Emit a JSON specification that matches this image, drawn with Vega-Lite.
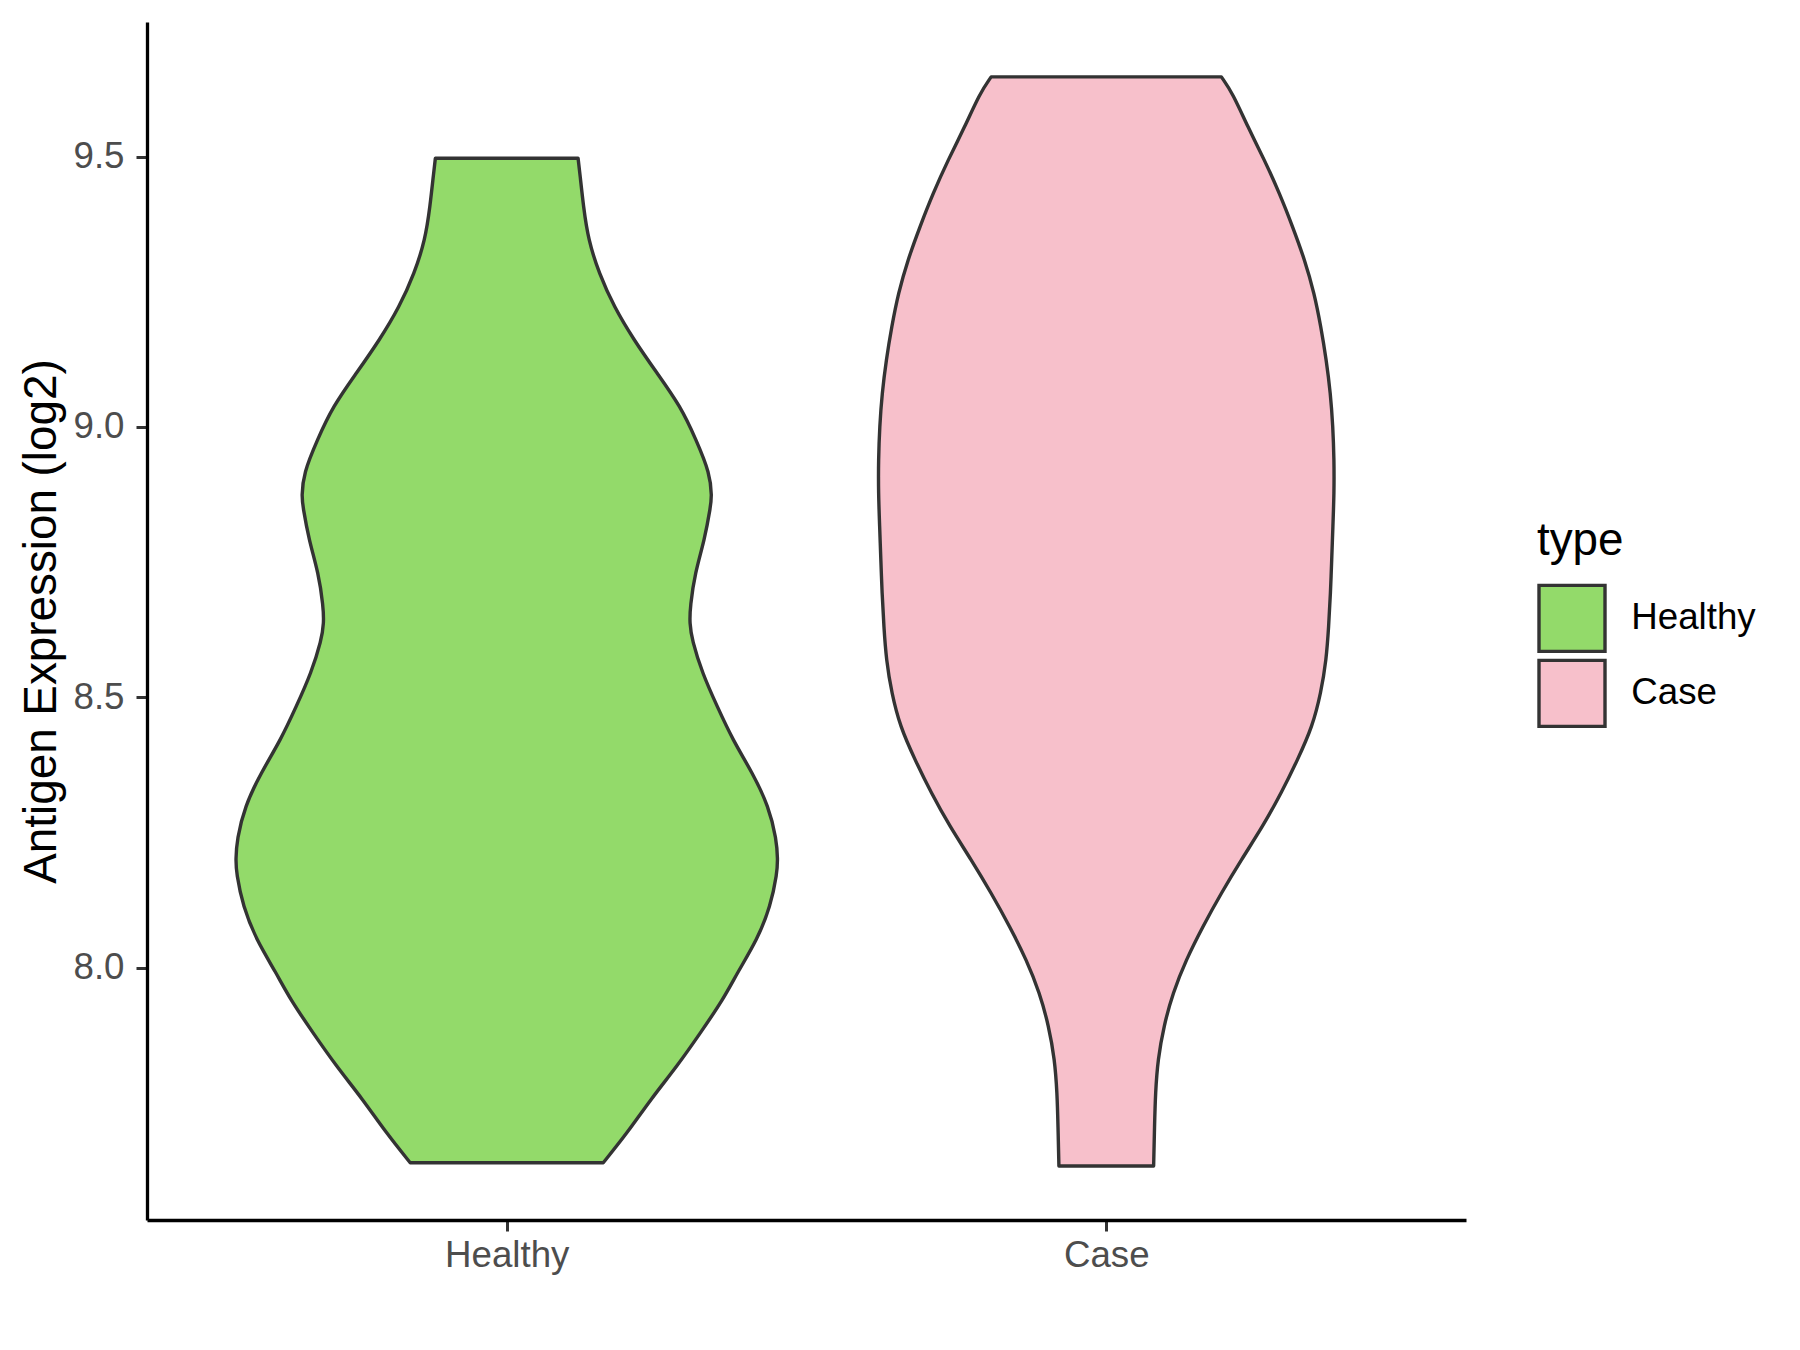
{
  "$schema": "https://vega.github.io/schema/vega-lite/v6.json",
  "autosize": {"type": "none"},
  "width": 1319,
  "height": 1198,
  "padding": {"left": 147, "top": 22, "right": 334, "bottom": 130},
  "background": "white",
  "config": {"view": {"stroke": null}, "font": "Liberation Sans"},
  "data": {"values": [
    {"type": "Healthy", "value": 7.639, "half_width": 0.161},
    {"type": "Healthy", "value": 7.694, "half_width": 0.201},
    {"type": "Healthy", "value": 7.756, "half_width": 0.240},
    {"type": "Healthy", "value": 7.818, "half_width": 0.2845},
    {"type": "Healthy", "value": 7.879, "half_width": 0.323},
    {"type": "Healthy", "value": 7.941, "half_width": 0.361},
    {"type": "Healthy", "value": 7.990, "half_width": 0.3845},
    {"type": "Healthy", "value": 8.052, "half_width": 0.418},
    {"type": "Healthy", "value": 8.113, "half_width": 0.440},
    {"type": "Healthy", "value": 8.175, "half_width": 0.451},
    {"type": "Healthy", "value": 8.200, "half_width": 0.452},
    {"type": "Healthy", "value": 8.237, "half_width": 0.450},
    {"type": "Healthy", "value": 8.298, "half_width": 0.437},
    {"type": "Healthy", "value": 8.360, "half_width": 0.410},
    {"type": "Healthy", "value": 8.421, "half_width": 0.377},
    {"type": "Healthy", "value": 8.483, "half_width": 0.351},
    {"type": "Healthy", "value": 8.545, "half_width": 0.326},
    {"type": "Healthy", "value": 8.606, "half_width": 0.309},
    {"type": "Healthy", "value": 8.637, "half_width": 0.305},
    {"type": "Healthy", "value": 8.668, "half_width": 0.306},
    {"type": "Healthy", "value": 8.730, "half_width": 0.314},
    {"type": "Healthy", "value": 8.791, "half_width": 0.330},
    {"type": "Healthy", "value": 8.853, "half_width": 0.340},
    {"type": "Healthy", "value": 8.871, "half_width": 0.342},
    {"type": "Healthy", "value": 8.914, "half_width": 0.339},
    {"type": "Healthy", "value": 8.976, "half_width": 0.316},
    {"type": "Healthy", "value": 9.038, "half_width": 0.290},
    {"type": "Healthy", "value": 9.099, "half_width": 0.251},
    {"type": "Healthy", "value": 9.161, "half_width": 0.212},
    {"type": "Healthy", "value": 9.222, "half_width": 0.179},
    {"type": "Healthy", "value": 9.284, "half_width": 0.154},
    {"type": "Healthy", "value": 9.346, "half_width": 0.136},
    {"type": "Healthy", "value": 9.407, "half_width": 0.128},
    {"type": "Healthy", "value": 9.469, "half_width": 0.122},
    {"type": "Healthy", "value": 9.497, "half_width": 0.119},
    {"type": "Case", "value": 7.633, "half_width": 0.079},
    {"type": "Case", "value": 7.707, "half_width": 0.0805},
    {"type": "Case", "value": 7.768, "half_width": 0.082},
    {"type": "Case", "value": 7.830, "half_width": 0.086},
    {"type": "Case", "value": 7.892, "half_width": 0.096},
    {"type": "Case", "value": 7.953, "half_width": 0.111},
    {"type": "Case", "value": 8.014, "half_width": 0.133},
    {"type": "Case", "value": 8.076, "half_width": 0.161},
    {"type": "Case", "value": 8.138, "half_width": 0.192},
    {"type": "Case", "value": 8.199, "half_width": 0.225},
    {"type": "Case", "value": 8.261, "half_width": 0.261},
    {"type": "Case", "value": 8.323, "half_width": 0.292},
    {"type": "Case", "value": 8.384, "half_width": 0.319},
    {"type": "Case", "value": 8.446, "half_width": 0.344},
    {"type": "Case", "value": 8.508, "half_width": 0.358},
    {"type": "Case", "value": 8.569, "half_width": 0.367},
    {"type": "Case", "value": 8.631, "half_width": 0.371},
    {"type": "Case", "value": 8.693, "half_width": 0.374},
    {"type": "Case", "value": 8.754, "half_width": 0.376},
    {"type": "Case", "value": 8.816, "half_width": 0.378},
    {"type": "Case", "value": 8.877, "half_width": 0.380},
    {"type": "Case", "value": 8.939, "half_width": 0.380},
    {"type": "Case", "value": 9.001, "half_width": 0.378},
    {"type": "Case", "value": 9.062, "half_width": 0.374},
    {"type": "Case", "value": 9.124, "half_width": 0.367},
    {"type": "Case", "value": 9.185, "half_width": 0.358},
    {"type": "Case", "value": 9.247, "half_width": 0.347},
    {"type": "Case", "value": 9.309, "half_width": 0.331},
    {"type": "Case", "value": 9.370, "half_width": 0.311},
    {"type": "Case", "value": 9.432, "half_width": 0.289},
    {"type": "Case", "value": 9.4935, "half_width": 0.264},
    {"type": "Case", "value": 9.555, "half_width": 0.236},
    {"type": "Case", "value": 9.617, "half_width": 0.211},
    {"type": "Case", "value": 9.6475, "half_width": 0.192}
  ]},
  "transform": [
    {"calculate": "(datum.type === 'Healthy' ? 1 : 2) - datum.half_width", "as": "left_edge"},
    {"calculate": "(datum.type === 'Healthy' ? 1 : 2) + datum.half_width", "as": "right_edge"}
  ],
  "mark": {"type": "area", "orient": "horizontal", "interpolate": "basis", "stroke": "#333333", "strokeWidth": 3.4, "strokeJoin": "round"},
  "encoding": {
    "y": {
      "field": "value", "type": "quantitative",
      "scale": {"domain": [7.533, 9.749], "nice": false, "zero": false},
      "axis": {
        "title": "Antigen Expression (log2)", "titleFontSize": 45.8, "titleColor": "#000000", "titleFontWeight": "normal", "titlePadding": 7,
        "values": [8, 8.5, 9, 9.5], "format": ".1f",
        "labelFontSize": 36.7, "labelColor": "#4D4D4D", "labelPadding": 12,
        "tickSize": 11, "tickWidth": 3, "tickColor": "#333333",
        "domainColor": "#000000", "domainWidth": 3.3, "grid": false
      }
    },
    "x": {
      "field": "left_edge", "type": "quantitative",
      "scale": {"domain": [0.4, 2.6], "nice": false, "zero": false},
      "axis": {
        "title": null, "values": [1, 2],
        "labelExpr": "datum.value === 1 ? 'Healthy' : 'Case'",
        "labelFontSize": 36.7, "labelColor": "#4D4D4D", "labelPadding": 6,
        "tickSize": 11, "tickWidth": 3, "tickColor": "#333333",
        "domainColor": "#000000", "domainWidth": 3.3, "grid": false
      }
    },
    "x2": {"field": "right_edge"},
    "fill": {
      "field": "type", "type": "nominal",
      "scale": {"domain": ["Healthy", "Case"], "range": ["#93DA6A", "#F7C0CB"]},
      "legend": {
        "orient": "none", "legendX": 1390, "legendY": 497.3, "padding": 0,
        "title": "type", "titleFontSize": 45.8, "titleColor": "#000000", "titleFontWeight": "normal", "titlePadding": 18.3,
        "labelFontSize": 36.7, "labelColor": "#000000", "labelOffset": 24.3,
        "symbolType": "square", "symbolSize": 4356, "symbolStrokeColor": "#333333", "symbolStrokeWidth": 3.4, "symbolOpacity": 1,
        "rowPadding": -6.5
      }
    }
  }
}
